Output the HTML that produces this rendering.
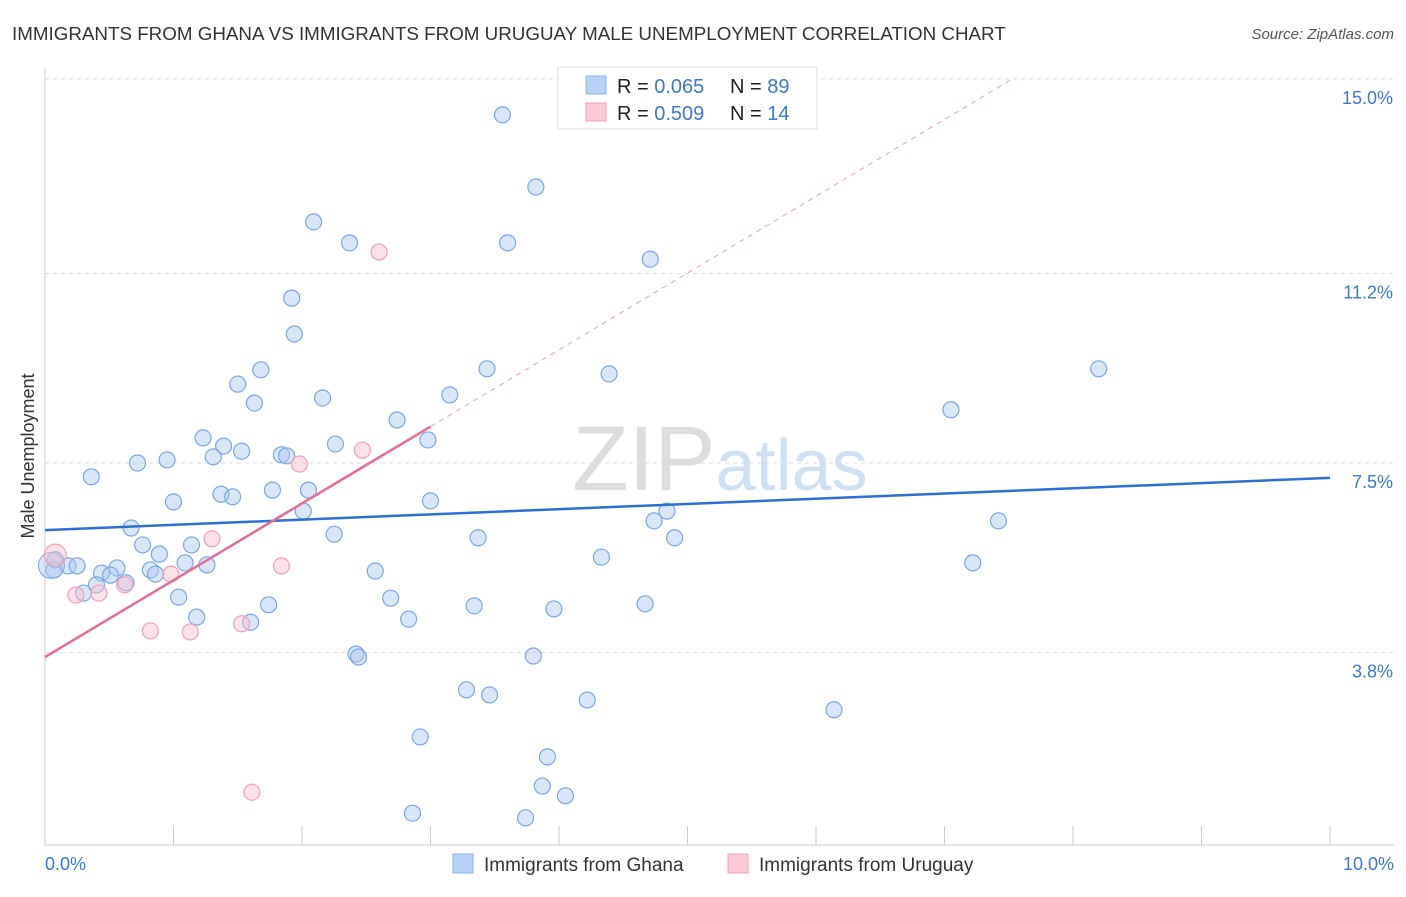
<!DOCTYPE html>
<html><head><meta charset="utf-8"><style>
body{margin:0;background:#fff;font-family:"Liberation Sans",sans-serif}
svg text{font-family:"Liberation Sans",sans-serif}
</style></head><body>
<svg id="c" width="1406" height="892">
<text x="12" y="40" font-size="18.8" fill="#333">IMMIGRANTS FROM GHANA VS IMMIGRANTS FROM URUGUAY MALE UNEMPLOYMENT CORRELATION CHART</text>
<text x="1394" y="39" font-size="15" fill="#555" font-style="italic" text-anchor="end">Source: ZipAtlas.com</text>
<text x="720" y="490" font-size="92" fill="#ddd" text-anchor="middle" font-family="Liberation Serif">ZIP<tspan fill="#cfe0f3" font-family="Liberation Sans" font-size="72">atlas</tspan></text>
<text transform="translate(34,456) rotate(-90)" font-size="18" fill="#333" text-anchor="middle">Male Unemployment</text>
<g id="grid"></g><g id="pts"></g><g id="lines"></g>
<g>
<rect x="558" y="67" width="259" height="62" fill="#fff" stroke="#ddd"/>
<rect x="586" y="76" width="20" height="18" fill="#b8d3f5" stroke="#8ab4ea"/>
<rect x="586" y="103" width="20" height="18" fill="#f9c9d6" stroke="#f0a0b8"/>
<text x="617" y="93" font-size="20" fill="#222">R = <tspan fill="#3a78d4">0.065</tspan><tspan x="730">N = </tspan><tspan fill="#3a78d4">89</tspan></text>
<text x="617" y="120" font-size="20" fill="#222">R = <tspan fill="#3a78d4">0.509</tspan><tspan x="730">N = </tspan><tspan fill="#3a78d4"> 14</tspan></text>
</g>
<g>
<rect x="453" y="854" width="20" height="19" fill="#b8d3f5" stroke="#8ab4ea"/>
<text x="484" y="871" font-size="19" fill="#333">Immigrants from Ghana</text>
<rect x="728" y="854" width="20" height="19" fill="#f9c9d6" stroke="#f0a0b8"/>
<text x="759" y="871" font-size="19" fill="#333">Immigrants from Uruguay</text>
</g>
</svg>
<script>
const yTicks=[15.0,11.2,7.5,3.8];
const yTickLabels=["15.0%","11.2%","7.5%","3.8%"];
const xLabels=["0.0%","10.0%"];
const ghanaX=[3.56,3.82,2.09,2.37,3.60,4.71,1.92,1.94,1.68,1.50,1.63,2.16,3.44,4.39,8.20,3.15,2.74,7.05,1.23,1.39,1.31,1.53,1.84,1.88,2.26,2.98,0.72,0.95,0.36,1.00,1.37,1.46,1.77,2.05,2.01,3.00,4.84,4.74,7.42,0.67,2.25,3.37,4.90,0.76,1.14,0.89,4.33,7.22,0.08,0.07,0.18,0.25,0.56,0.44,0.51,0.82,0.86,1.09,1.26,2.57,0.40,0.63,0.30,1.04,2.69,1.74,3.34,3.96,4.67,1.18,2.83,1.60,2.42,2.44,3.80,3.28,3.46,4.22,6.14,2.92,3.91,3.87,4.05,2.86,3.74];
const ghanaY=[14.30,12.89,12.21,11.80,11.80,11.48,10.72,10.02,9.32,9.04,8.67,8.77,9.34,9.24,9.34,8.83,8.34,8.54,7.99,7.83,7.62,7.73,7.66,7.64,7.87,7.95,7.50,7.56,7.23,6.74,6.89,6.84,6.97,6.97,6.56,6.76,6.56,6.37,6.37,6.23,6.11,6.04,6.04,5.90,5.90,5.72,5.66,5.55,5.61,5.41,5.49,5.49,5.45,5.35,5.31,5.41,5.33,5.55,5.51,5.39,5.12,5.16,4.96,4.88,4.86,4.73,4.71,4.65,4.75,4.49,4.45,4.39,3.77,3.71,3.73,3.07,2.97,2.87,2.68,2.15,1.76,1.19,1.00,0.66,0.57];
const uruX=[2.60,2.47,1.98,1.30,1.84,0.98,0.62,0.24,0.42,0.82,1.13,1.53,1.61,0.08];
const uruY=[11.62,7.75,7.48,6.02,5.49,5.33,5.12,4.92,4.96,4.22,4.20,4.36,1.07,5.70];
const ghanaTrend=[6.19,0.102];
const uruTrend=[3.71,1.50];
const X=v=>45+v*128.5, Y=v=>847-v*51.2;
const NS="http://www.w3.org/2000/svg";
function mk(t,a,p){const e=document.createElementNS(NS,t);for(const k in a)e.setAttribute(k,a[k]);p.appendChild(e);return e;}
const grid=document.getElementById('grid'),pts=document.getElementById('pts'),lines=document.getElementById('lines');
yTicks.forEach((t,i)=>{
 const l=mk('line',{x1:45,x2:1394,y1:Y(t),y2:Y(t),stroke:'#ddd','stroke-dasharray':'4,4'},grid);
 
 
 const tx=mk('text',{x:1393,y:Y(t)+25,'font-size':18,fill:'#3a78d4','text-anchor':'end'},grid);
 tx.textContent=yTickLabels[i];
 
 
});
mk('line',{x1:45,x2:45,y1:68,y2:845,stroke:'#ccc'},grid);
mk('line',{x1:45,x2:1394,y1:845,y2:845,stroke:'#ccc'},grid);
for(let i=0;i<=10;i++){const t=mk('line',{x1:X(i),x2:X(i),y1:826,y2:845,stroke:'#ccc'},grid);
 
 }
[[0,'start',45],[10,'end',1394]].forEach((d,i)=>{const t=mk('text',{x:d[2],y:870,'font-size':18,fill:'#3a78d4','text-anchor':d[1]},grid);t.textContent=xLabels[i];
 
 });
ghanaX.forEach((x,i)=>{const c=mk('circle',{cx:X(x),cy:Y(ghanaY[i]),r:8,fill:'rgba(170,200,240,0.45)',stroke:'#7aa8e4','stroke-width':1.2},pts);
 
 });
const big=mk('circle',{cx:X(0.05),cy:Y(5.5),r:13,fill:'rgba(170,200,240,0.45)',stroke:'#7aa8e4'},pts);


uruX.forEach((x,i)=>{const c=mk('circle',{cx:X(x),cy:Y(uruY[i]),r:i==13?11:8,fill:'rgba(248,190,205,0.45)',stroke:'#f0a0b8','stroke-width':1.2},pts);
 
 });
const bl=mk('line',{x1:X(0),y1:Y(ghanaTrend[0]),x2:X(10),y2:Y(ghanaTrend[0]+10*ghanaTrend[1]),stroke:'#2d6fd2','stroke-width':2.5},lines);


const xe=(15-uruTrend[0])/uruTrend[1];
const pd=mk('line',{x1:X(3),y1:Y(uruTrend[0]+3*uruTrend[1]),x2:X(xe),y2:Y(15),stroke:'#e8a0b8','stroke-width':1,'stroke-dasharray':'5,5'},lines);


const pl=mk('line',{x1:X(0),y1:Y(uruTrend[0]),x2:X(3),y2:Y(uruTrend[0]+3*uruTrend[1]),stroke:'#e86a96','stroke-width':2.5},lines);


</script>
</body></html>
